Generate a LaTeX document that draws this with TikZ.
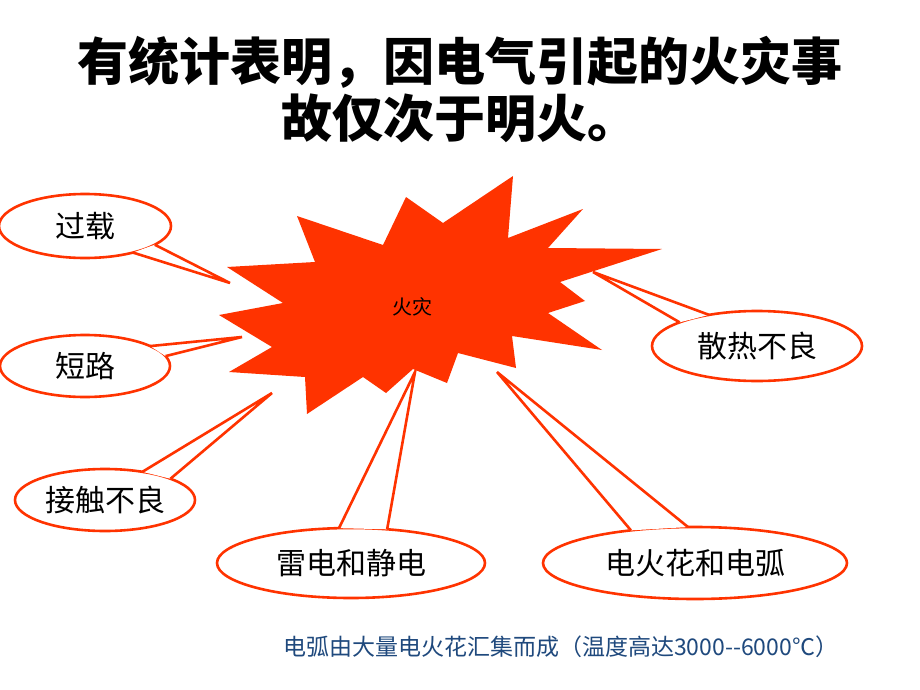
\documentclass[tikz,border=0pt]{standalone}
\usepackage{fontspec}
\setmainfont{Noto Sans CJK SC}
\usetikzlibrary{shapes.geometric}
\definecolor{fire}{RGB}{255,51,0}
\definecolor{notecol}{RGB}{31,73,125}
\begin{document}
\begin{tikzpicture}[x=1pt,y=-1pt,
  callout/.style={ellipse, draw=fire, line width=2.6pt, fill=white, inner sep=0pt, outer sep=0pt, font=\fontsize{30}{32}\selectfont},
  tail/.style={draw=fire, line width=2.6pt, line join=miter},
  tailfill/.style={fill=white},
  titletext/.style={font=\fontsize{51}{56}\selectfont\bfseries, inner sep=0pt}]
\useasboundingbox (0,0) rectangle (920,690);
\fill[white] (0,0) rectangle (920,690);

% title
\node[titletext] (titleA) at (460,62) {有统计表明，因电气引起的火灾事};
\node[titletext] (titleB) at (460,118) {故仅次于明火。};

% starburst
\fill[fire] (227,267) -- (315,262) -- (297,216) -- (383,245) -- (406,197) -- (443,223)
  -- (513,176) -- (508,238) -- (583,209) -- (548,248) -- (662,249) -- (560,282)
  -- (585,301) -- (548,313) -- (602,350) -- (512,336) -- (516,368) -- (458,353)
  -- (447,383) -- (413,369) -- (386,393) -- (363,377) -- (307,414) -- (305,377)
  -- (229,372) -- (272,347) -- (219,315) -- (283,303) -- cycle;
\node[font=\fontsize{20}{21}\selectfont, inner sep=0pt] (fire) at (412,307) {火灾};

% callouts
\node[callout, minimum width=172pt, minimum height=64pt] (guozai) at (85,226) {过载};
\coordinate (guozaiTip) at (230,283);
\fill[tailfill] (guozaiTip) -- (guozai.345) -- (guozai.331) -- cycle;
\draw[tail] (guozai.345) -- (guozaiTip) -- (guozai.331);

\node[callout, minimum width=170pt, minimum height=62pt] (duanlu) at (85,366) {短路};
\coordinate (duanluTip) at (242,337);
\fill[tailfill] (duanluTip) -- (duanlu.17) -- (duanlu.7) -- cycle;
\draw[tail] (duanlu.17) -- (duanluTip) -- (duanlu.7);

\node[callout, minimum width=180pt, minimum height=62pt] (jiechu) at (105,500) {接触不良};
\coordinate (jiechuTip) at (272,393);
\fill[tailfill] (jiechuTip) -- (jiechu.37) -- (jiechu.18) -- cycle;
\draw[tail] (jiechu.37) -- (jiechuTip) -- (jiechu.18);

\node[callout, minimum width=268pt, minimum height=70pt] (leidian) at (351,563) {雷电和静电};
\coordinate (leidianTip) at (415,372);
\fill[tailfill] (leidianTip) -- (leidian.109) -- (leidian.43) -- cycle;
\draw[tail] (leidian.109) -- (leidianTip) -- (leidian.43);

\node[callout, minimum width=304pt, minimum height=72pt] (dianhuo) at (695,563) {电火花和电弧};
\coordinate (dianhuoTip) at (497,372);
\fill[tailfill] (dianhuoTip) -- (dianhuo.153) -- (dianhuo.101) -- cycle;
\draw[tail] (dianhuo.153) -- (dianhuoTip) -- (dianhuo.101);

\node[callout, minimum width=210pt, minimum height=70pt] (sanre) at (757,346) {散热不良};
\coordinate (sanreTip) at (593,272);
\fill[tailfill] (sanreTip) -- (sanre.163) -- (sanre.147) -- cycle;
\draw[tail] (sanre.163) -- (sanreTip) -- (sanre.147);

% note
\node[anchor=west, inner sep=0pt, text=notecol, font=\fontsize{23}{25}\selectfont] (note) at (283,647) {电弧由大量电火花汇集而成（温度高达3000-{}-6000℃）};
\end{tikzpicture}
\end{document}
